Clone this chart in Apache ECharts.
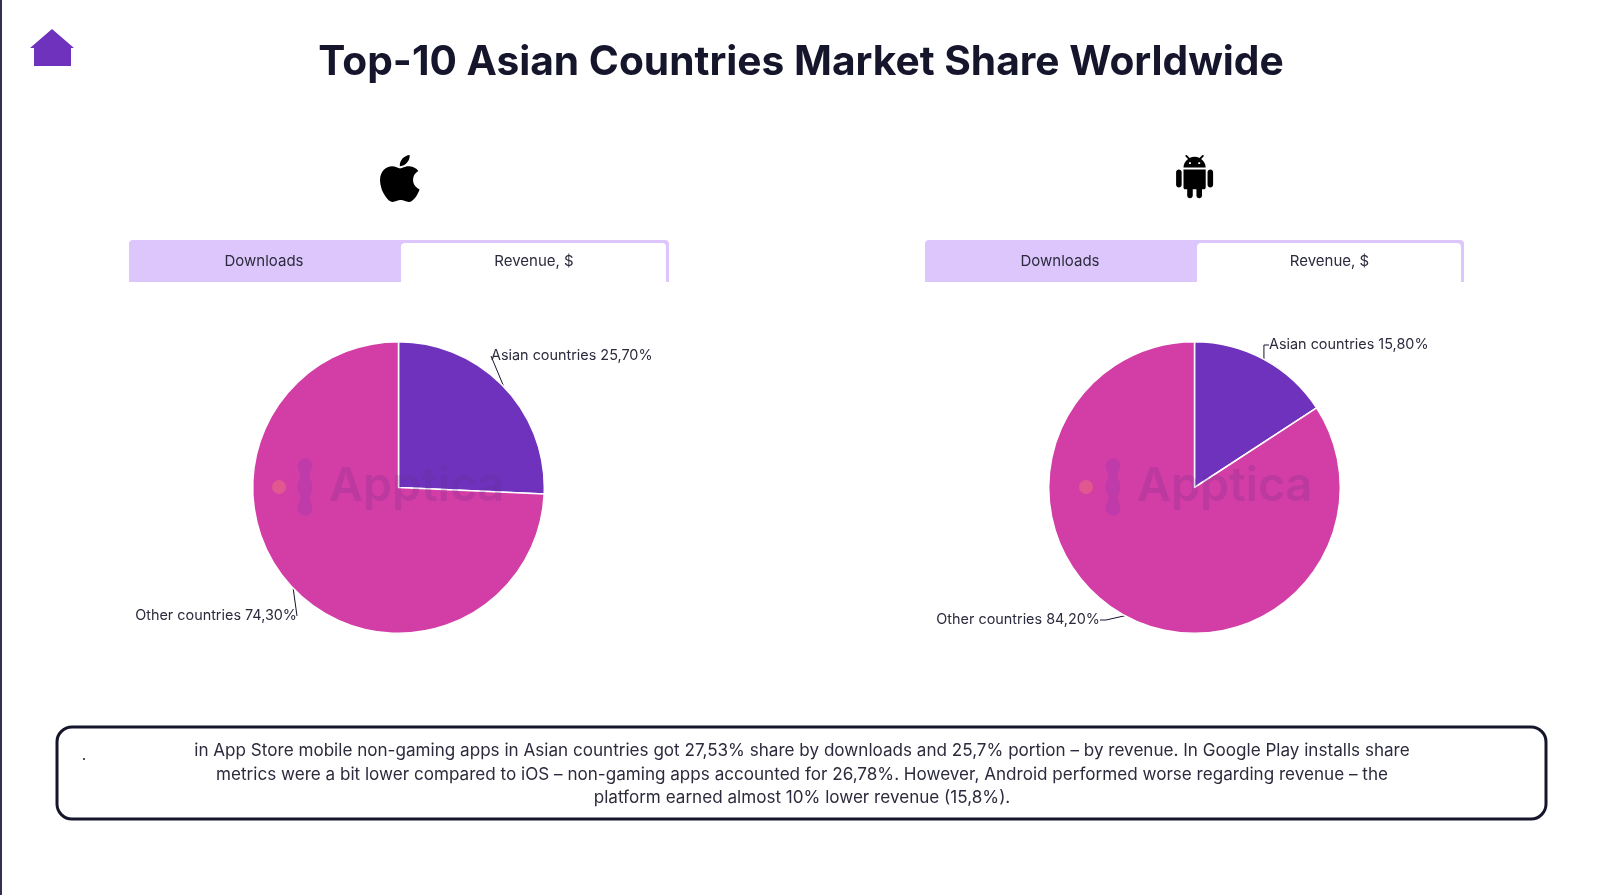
<!DOCTYPE html>
<html>
<head>
<meta charset="utf-8">
<title>Top-10 Asian Countries Market Share Worldwide</title>
<script src="https://cdn.jsdelivr.net/npm/echarts@6/dist/echarts.min.js"></script>
<style>
  html, body { margin: 0; padding: 0; background: #fff; }
  #chart { width: 1600px; height: 895px; }
</style>
</head>
<body>
<div id="chart"></div>
<script>
var titleText = 'Top-10 Asian Countries Market Share Worldwide';
var categories = ['Asian countries', 'Other countries'];
var iosRevenue = [25.7, 74.3];
var androidRevenue = [15.8, 84.2];
var tabLabels = ['Downloads', 'Revenue, $'];
var noteLines = [
  'in App Store mobile non-gaming apps in Asian countries got 27,53% share by downloads and 25,7% portion – by revenue. In Google Play installs share',
  'metrics were a bit lower compared to iOS – non-gaming apps accounted for 26,78%. However, Android performed worse regarding revenue – the',
  'platform earned almost 10% lower revenue (15,8%).'
];

var PURPLE = '#6f32bd', PINK = '#d33ea6', TAB = '#dcc6fb', INK = '#15162c', TEXT = '#2b2b3d';
var FONT = 'Inter, "Open Sans", sans-serif';

var applePath = 'M318.7 268.7c-.2-36.7 16.4-64.4 50-84.8-18.8-26.9-47.2-41.7-84.7-44.6-35.5-2.8-74.3 20.7-88.5 20.7-15 0-49.4-19.7-76.4-19.7C63.3 141.2 4 184.8 4 273.5q0 39.3 14.4 81.2c12.8 36.7 59 126.7 107.2 125.2 25.2-.6 43-17.9 75.8-17.9 31.8 0 48.3 17.9 76.4 17.9 48.6-.7 90.4-82.5 102.6-119.3-65.2-30.7-61.7-90-61.7-91.9zm-56.6-164.2c27.3-32.4 24.8-61.9 24-72.5-24.1 1.4-52 16.4-67.9 34.9-17.5 19.8-27.8 44.3-25.6 71.9 26.1 2 49.9-11.4 69.5-34.3z';
var androidPath = 'M6 18c0 .55.45 1 1 1h1v3.5c0 .83.67 1.5 1.5 1.5s1.5-.67 1.5-1.5V19h2v3.5c0 .83.67 1.5 1.5 1.5s1.5-.67 1.5-1.5V19h1c.55 0 1-.45 1-1V8H6v10zM3.5 8C2.67 8 2 8.67 2 9.5v7c0 .83.67 1.5 1.5 1.5S5 17.33 5 16.5v-7C5 8.67 4.33 8 3.5 8zm17 0c-.83 0-1.5.67-1.5 1.5v7c0 .83.67 1.5 1.5 1.5s1.5-.67 1.5-1.5v-7c0-.83-.67-1.5-1.5-1.5zm-4.97-5.84l1.3-1.3c.2-.2.2-.51 0-.71-.2-.2-.51-.2-.71 0l-1.48 1.48C13.85 1.23 12.95 1 12 1c-.96 0-1.86.23-2.66.63L7.85.15c-.2-.2-.51-.2-.71 0-.2.2-.2.51 0 .71l1.31 1.31C6.97 3.26 6 5.01 6 7h12c0-1.99-.97-3.75-2.47-4.84zM10 5H9V4h1v1zm5 0h-1V4h1v1z';

echarts.graphic.registerShape('appleIcon', echarts.graphic.extendPath(applePath, {}));
echarts.graphic.registerShape('androidIcon', echarts.graphic.extendPath(androidPath, {}));

// pie label anchors, one pair per pie
var labelSpots = [
  [{ x: 491, y: 356, align: 'left' }, { x: 297, y: 616, align: 'right' }],
  [{ x: 1269, y: 345, align: 'left' }, { x: 1100, y: 620, align: 'right' }]
];

function pieSeries(idx, values, cx) {
  return {
    type: 'pie',
    radius: 145.8,
    center: [cx, 487.5],
    startAngle: 90,
    clockwise: true,
    animation: false,
    z: 2,
    data: categories.map(function (name, i) {
      return { name: name, value: values[i], itemStyle: { color: i === 0 ? PURPLE : PINK } };
    }),
    itemStyle: { borderColor: '#fff', borderWidth: 1.5 },
    label: {
      show: true,
      color: TEXT,
      fontFamily: FONT,
      fontSize: 14.4,
      formatter: function (p) {
        return p.name + ' ' + p.value.toFixed(2).replace('.', ',') + '%';
      }
    },
    labelLine: { show: true, length: 12, length2: 6, lineStyle: { color: INK, width: 1 } },
    labelLayout: function (p) {
      var s = labelSpots[idx][p.dataIndex];
      return { x: s.x, y: s.y, align: s.align, verticalAlign: 'middle' };
    },
    emphasis: { disabled: true }
  };
}

function tabs(x0, split, x1) {
  return [
    { type: 'rect', z: 1, shape: { x: x0, y: 240, width: x1 - x0, height: 42, r: [4, 4, 0, 0] }, style: { fill: TAB } },
    { type: 'rect', z: 1, shape: { x: split, y: 243, width: x1 - split - 3, height: 39, r: [4, 4, 0, 0] }, style: { fill: '#fff' } },
    { type: 'text', z: 3, x: (x0 + split) / 2 - 1, y: 261, style: { text: tabLabels[0], fill: TEXT, font: '15px ' + FONT, align: 'center', verticalAlign: 'middle' } },
    { type: 'text', z: 3, x: (split + x1) / 2 - 1, y: 261, style: { text: tabLabels[1], fill: TEXT, font: '15px ' + FONT, align: 'center', verticalAlign: 'middle' } }
  ];
}

function watermark(dotX, chainX, textX) {
  return [
    { type: 'circle', z: 5, shape: { cx: dotX, cy: 487, r: 7 }, style: { fill: 'rgba(255,150,90,0.3)' } },
    { type: 'path_chain', z: 5, x: chainX, y: 487, style: { fill: 'rgba(120,50,190,0.2)' } },
    { type: 'text', z: 5, x: textX, y: 487, style: { text: 'Apptica', fill: 'rgba(100,40,140,0.2)', font: '600 46.7px ' + FONT, align: 'left', verticalAlign: 'middle' } }
  ];
}

// three linked beads of the watermark logo, as one path so the overlaps do not darken
echarts.graphic.registerShape('path_chain', echarts.graphic.extendPath(
  'M-7.5 -21a7.5 7.5 0 0 1 15 0c0 4 -3 6 -3 10.5c0 2 3 5 3 10.5c0 5 -3 8 -3 10.5c0 4 3 6 3 10.5a7.5 7.5 0 0 1 -15 0c0 -4 3 -6 3 -10.5c0 -2.5 -3 -5.5 -3 -10.5c0 -5.5 3 -8.5 3 -10.5c0 -4.5 -3 -6.5 -3 -10.5z', {}));

var graphics = [
  { type: 'rect', shape: { x: 0, y: 0, width: 2, height: 895 }, style: { fill: '#34304f' } },
  { type: 'polygon', shape: { points: [[52, 29], [74, 48], [71, 48], [71, 66], [34, 66], [34, 48], [30, 48]] }, style: { fill: PURPLE } },
  { type: 'text', x: 801, y: 63, style: { text: titleText, fill: INK, font: '700 40.7px ' + FONT, align: 'center', verticalAlign: 'middle' } },
  { type: 'appleIcon', x: 379.6, y: 151.6, scaleX: 0.105, scaleY: 0.105, style: { fill: '#000' } },
  { type: 'androidIcon', x: 1172.4, y: 155, scaleX: 1.85, scaleY: 1.8, style: { fill: '#000' } },
  { type: 'rect', shape: { x: 57, y: 727, width: 1489, height: 92, r: 15 }, style: { fill: '#fff', stroke: INK, lineWidth: 3 } },
  { type: 'circle', z: 3, shape: { cx: 84, cy: 759, r: 1 }, style: { fill: INK } }
].concat(
  tabs(129, 401, 669),
  tabs(925, 1197, 1464),
  watermark(279, 305, 329),
  watermark(1086, 1113, 1137),
  noteLines.map(function (line, i) {
    return { type: 'text', z: 3, x: 802, y: 751 + i * 23.6, style: { text: line, fill: TEXT, font: '17.1px ' + FONT, align: 'center', verticalAlign: 'middle' } };
  })
);

var chart = echarts.init(document.getElementById('chart'), null, { renderer: 'canvas' });
chart.setOption({
  backgroundColor: '#fff',
  animation: false,
  series: [pieSeries(0, iosRevenue, 398.5), pieSeries(1, androidRevenue, 1194.5)],
  graphic: { elements: graphics }
});
</script>
</body>
</html>
